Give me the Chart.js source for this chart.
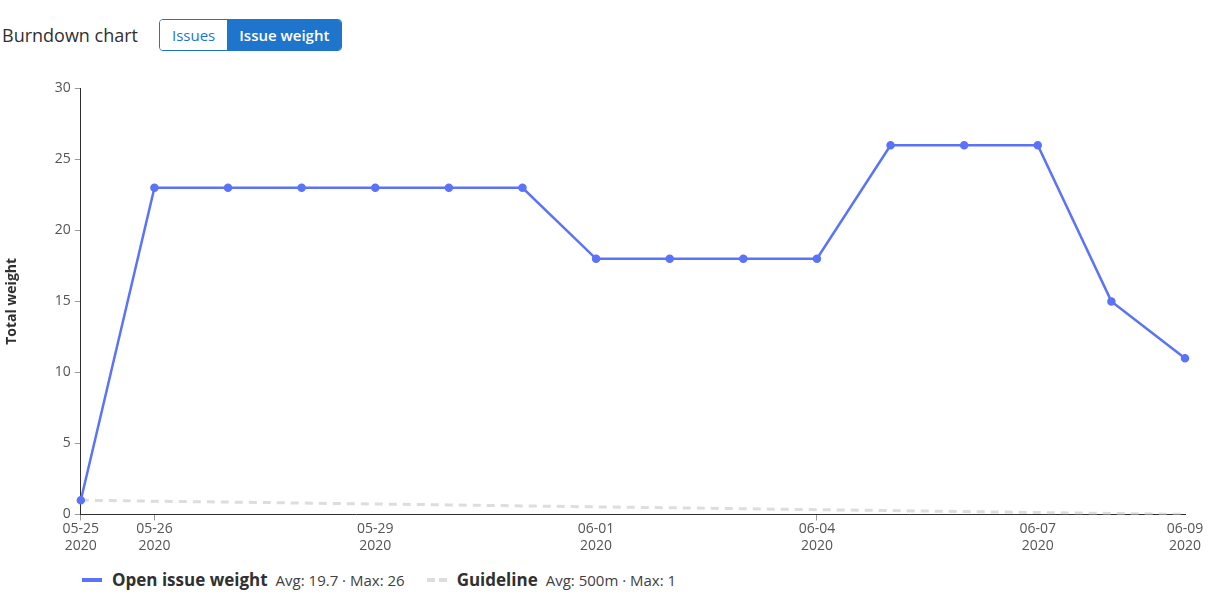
<!DOCTYPE html>
<html>
<head>
<meta charset="utf-8">
<script src="https://cdn.jsdelivr.net/npm/chart.js@4"></script>
<style>
  body { margin: 0; font-family: "Open Sans", "Noto Sans", sans-serif; background: #fff; color: #303030; }
  .head { position: absolute; left: 2px; top: 19px; display: flex; align-items: center; }
  .head h3 { font-size: 18px; font-weight: 400; margin: 0 21px 0 0; color: #303030; }
  .btns { display: flex; border: 1px solid #1f75cb; border-radius: 4px; overflow: hidden; }
  .btns span { font-size: 15px; padding: 4px 12px; height: 22px; line-height: 22px; }
  .btns .off { color: #1f75cb; background: #fff; }
  .btns .on { color: #fff; background: #1f75cb; font-weight: 600; }
  #wrap { position: absolute; left: 0; top: 76px; width: 1213px; height: 478px; }
  .legend { position: absolute; left: 82px; top: 568px; display: flex; align-items: center; font-size: 15px; }
  .legend .sw { display: inline-block; width: 20px; height: 4px; margin-right: 10px; }
  .legend b { font-size: 17px; margin-right: 8px; color: #303030; }
  .legend .st { margin-right: 22px; color: #404040; }
</style>
</head>
<body>
<div class="head"><h3>Burndown chart</h3><div class="btns"><span class="off">Issues</span><span class="on">Issue weight</span></div></div>
<div id="wrap"><canvas id="myChart"></canvas></div>
<div class="legend">
  <span class="sw" style="background:#5a73f8"></span><b>Open issue weight</b><span class="st">Avg: 19.7 · Max: 26</span>
  <span class="sw" style="background:repeating-linear-gradient(90deg,#ddd 0 8px,transparent 8px 12px)"></span><b>Guideline</b><span class="st">Avg: 500m · Max: 1</span>
</div>
<script>
const days = ['05-25','05-26','05-27','05-28','05-29','05-30','05-31','06-01','06-02','06-03','06-04','06-05','06-06','06-07','06-08','06-09'];
const shownDays = ['05-25','05-26','05-29','06-01','06-04','06-07','06-09'];
const openWeight = [1, 23, 23, 23, 23, 23, 23, 18, 18, 18, 18, 26, 26, 26, 15, 11];
const guideline = [1, 0.93, 0.87, 0.8, 0.73, 0.67, 0.6, 0.53, 0.47, 0.4, 0.33, 0.27, 0.2, 0.13, 0.07, 0];

const isShown = i => shownDays.includes(days[i]);

new Chart(document.getElementById('myChart').getContext('2d'), {
    type: 'line',
    data: {
        labels: days,
        datasets: [
            {
                label: 'Open issue weight',
                data: openWeight,
                borderColor: '#5a73f8',
                backgroundColor: '#5a73f8',
                borderWidth: 2.5,
                pointRadius: 3,
                pointHoverRadius: 3,
                tension: 0
            },
            {
                label: 'Guideline',
                data: guideline,
                borderColor: '#dddddd',
                borderWidth: 3,
                borderDash: [8, 6],
                pointRadius: 0,
                tension: 0
            }
        ]
    },
    options: {
        responsive: true,
        maintainAspectRatio: false,
        animation: false,
        layout: { padding: { right: 28, top: 6 } },
        plugins: { legend: { display: false }, tooltip: { enabled: false } },
        scales: {
            x: {
                offset: false,
                border: { display: true, color: '#303030', width: 1 },
                grid: {
                    drawOnChartArea: false,
                    tickLength: 6,
                    tickColor: ctx => isShown(ctx.index) ? '#999' : 'transparent'
                },
                ticks: {
                    autoSkip: false,
                    maxRotation: 0,
                    color: '#555',
                    font: { family: 'Open Sans', size: 14 },
                    padding: 0,
                    callback: (v, i) => isShown(i) ? [days[i], '2020'] : null
                }
            },
            y: {
                min: 0, max: 30,
                border: { display: true, color: '#303030', width: 1 },
                grid: { drawOnChartArea: false, tickLength: 6, tickColor: '#999' },
                ticks: { stepSize: 5, color: '#555', font: { family: 'Open Sans', size: 14 }, padding: 4 },
                title: { display: true, text: 'Total weight', color: '#303030', font: { family: 'Open Sans', size: 14, weight: 'bold' }, padding: { bottom: 30 } }
            }
        }
    }
});
</script>
</body>
</html>
